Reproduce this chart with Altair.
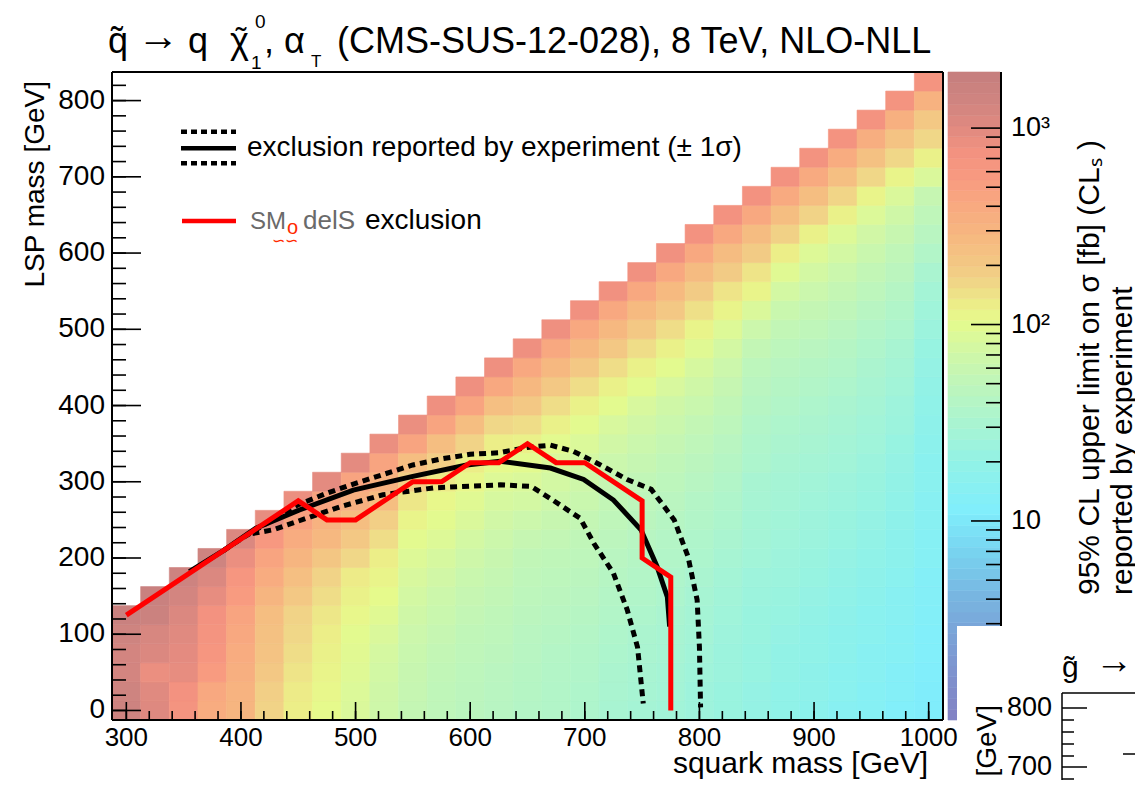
import altair as alt
import numpy as np
import pandas as pd

# ---------------- data ----------------
squark_mass = [300, 325, 350, 375, 400, 425, 450, 475, 500, 525, 550, 575, 600, 625, 650,
               675, 700, 725, 750, 775, 800, 825, 850, 875, 900, 925, 950, 975, 1000]
lsp_step = 25  # every column starts at LSP = 0 and climbs in steps of 25 GeV

# 95% CL upper limit on sigma [fb], per squark-mass column, from LSP = 0 upwards
sig_300 = [1500, 1450, 1300, 1300, 1450, 1700]
sig_325 = [1050, 1000, 850, 1100, 1200, 1600, 1700]
sig_350 = [700, 750, 900, 950, 1000, 1100, 1300, 1500]
sig_375 = [380, 420, 550, 650, 700, 750, 900, 1100, 1450]
sig_400 = [300, 320, 350, 380, 420, 450, 550, 650, 850, 1100]
sig_425 = [170, 180, 200, 220, 230, 250, 300, 380, 450, 600, 900]
sig_450 = [125, 130, 140, 150, 160, 170, 200, 240, 300, 380, 480, 850]
sig_475 = [105, 110, 115, 120, 125, 135, 150, 170, 210, 280, 330, 450, 950]
sig_500 = [85, 88, 92, 96, 100, 110, 120, 130, 160, 200, 250, 350, 450, 950]
sig_525 = [68, 70, 74, 78, 85, 95, 105, 115, 125, 150, 180, 250, 330, 450, 850]
sig_550 = [56, 58, 60, 62, 65, 70, 75, 82, 90, 100, 115, 135, 180, 250, 450, 850]
sig_575 = [50, 51, 53, 55, 58, 62, 66, 72, 80, 90, 100, 110, 130, 180, 250, 450, 800]
sig_600 = [46, 47, 48, 50, 52, 55, 58, 62, 68, 75, 85, 95, 110, 125, 170, 250, 450, 800]
sig_625 = [43, 44, 45, 47, 49, 51, 54, 57, 61, 66, 72, 80, 90, 105, 125, 160, 240, 420, 800]
sig_650 = [40, 41, 42, 43, 44, 46, 48, 50, 53, 58, 65, 75, 85, 100, 120, 150, 200, 280, 420, 800]
sig_675 = [38, 38, 39, 40, 42, 44, 46, 48, 51, 55, 60, 67, 75, 85, 100, 120, 150, 200, 280, 420, 800]
sig_700 = [35, 36, 37, 38, 40, 42, 44, 46, 49, 52, 56, 62, 68, 76, 86, 100, 120, 150, 200, 280, 420, 780]
sig_725 = [31, 32, 33, 34, 36, 38, 40, 42, 44, 47, 50, 54, 58, 64, 72, 82, 100, 120, 150, 200, 280, 420, 780]
sig_750 = [29, 30, 31, 32, 33, 35, 37, 39, 41, 43, 46, 49, 53, 58, 64, 72, 82, 100, 120, 150, 200, 270, 420, 780]
sig_775 = [27, 28, 29, 30, 31, 32, 34, 36, 38, 40, 42, 45, 48, 52, 57, 63, 70, 82, 100, 120, 150, 200, 270, 420, 780]
sig_800 = [25, 25, 26, 27, 28, 29, 30, 32, 34, 36, 38, 40, 43, 46, 50, 55, 62, 70, 80, 95, 115, 145, 190, 265, 420, 760]
sig_825 = [23, 23, 24, 24, 25, 26, 27, 28, 30, 32, 34, 36, 38, 41, 44, 48, 53, 58, 65, 75, 90, 115, 140, 190, 260, 420, 760]
sig_850 = [21, 21, 22, 22, 23, 23, 24, 25, 27, 28, 29, 30, 31, 34, 36, 38, 42, 45, 48, 55, 65, 85, 115, 140, 190, 260, 420, 750]
sig_875 = [19, 19, 20, 20, 21, 22, 23, 24, 25, 26, 27, 28, 29, 31, 33, 35, 38, 41, 44, 48, 54, 62, 75, 95, 125, 175, 250, 400, 750]
sig_900 = [17, 18, 18, 19, 19, 20, 21, 22, 23, 24, 25, 26, 27, 29, 31, 33, 35, 38, 41, 45, 50, 56, 64, 75, 90, 120, 170, 250, 400, 740]
sig_925 = [15, 16, 16, 17, 17, 18, 19, 20, 21, 22, 23, 24, 25, 27, 28, 30, 32, 35, 38, 41, 45, 50, 56, 64, 75, 90, 120, 165, 240, 380, 730]
sig_950 = [14, 14, 15, 15, 16, 16, 17, 18, 19, 20, 21, 22, 23, 24, 26, 27, 29, 31, 33, 36, 39, 43, 48, 54, 62, 72, 88, 115, 160, 230, 360, 720]
sig_975 = [12, 13, 13, 14, 14, 15, 15, 16, 17, 17, 18, 19, 20, 21, 22, 24, 25, 27, 29, 31, 34, 37, 41, 46, 52, 60, 70, 85, 115, 160, 220, 340, 710]
sig_1000 = [11, 11, 11.5, 12, 12, 12.5, 13, 13, 14, 14, 15, 15, 16, 16, 17, 18, 19, 20, 21, 22, 24, 26, 28, 32, 38, 44, 50, 58, 85, 120, 160, 200, 330, 700]

sig_columns = [sig_300, sig_325, sig_350, sig_375, sig_400, sig_425, sig_450, sig_475, sig_500,
               sig_525, sig_550, sig_575, sig_600, sig_625, sig_650, sig_675, sig_700, sig_725,
               sig_750, sig_775, sig_800, sig_825, sig_850, sig_875, sig_900, sig_925, sig_950,
               sig_975, sig_1000]

# exclusion contours (squark mass, LSP mass)
obs_x = [355, 385, 413, 451, 498, 550, 597, 626, 670, 699, 725, 749, 763, 772, 774]
obs_y = [182, 210, 239, 263, 289, 307, 322, 327, 318, 303, 276, 237, 189, 149, 110]
up_x = [385, 400, 425, 450, 475, 500, 525, 550, 575, 600, 625, 650, 670, 690, 710, 737, 758, 778, 790, 798, 800, 801]
up_y = [210, 225, 248, 270, 285, 298, 310, 322, 330, 336, 338, 345, 348, 340, 325, 303, 290, 250, 202, 145, 83, 4]
dn_x = [410, 428, 457, 486, 524, 568, 626, 653, 670, 696, 708, 725, 737, 746, 751]
dn_y = [232, 237, 252, 267, 283, 292, 296, 294, 278, 252, 219, 180, 132, 83, 9]
smodels_x = [300, 450, 475, 500, 550, 575, 600, 625, 650, 675, 700, 750, 750, 775, 775]
smodels_y = [125, 275, 250, 250, 300, 300, 325, 325, 350, 325, 325, 275, 200, 175, 0]

# axis tick values and labels
x_labels = [300, 400, 500, 600, 700, 800, 900, 1000]
x_minor = list(range(300, 1001, 20))
y_labels = [0, 100, 200, 300, 400, 500, 600, 700, 800]
y_minor = list(range(0, 821, 20))
cb_major = [10, 100, 1000]
cb_major_text = ['10', '10²', '10³']
cb_minor = [m * d for d in (1, 10, 100) for m in range(2, 10)]
cb_lo, cb_hi = 0.97, 1930

# colour palette (log10 sigma -> colour)
lv_stops = [0.0, 0.35, 0.6, 0.85, 1.05, 1.15, 1.3, 1.45, 1.6, 1.75, 1.9, 2.02, 2.1, 2.2,
            2.3, 2.45, 2.6, 2.75, 2.88, 3.0, 3.15, 3.29]
col_stops = ['#8282c4', '#7c9cd4', '#78b4e0', '#78d4f0', '#80eefc', '#86f0f4', '#92f2e6',
             '#a4f4d6', '#b4f5c6', '#c4f6b4', '#d6f8a0', '#e6fa8c', '#ecee88', '#f0d888',
             '#f3c884', '#f6b880', '#f8aa80', '#f89a80', '#f39280', '#e08a80', '#cf8480', '#c47e7e']

# ---------------- tables ----------------
rows = []
for mx, col in zip(squark_mass, sig_columns):
    for j, s in enumerate(col):
        my = lsp_step * j
        rows.append(dict(x0=mx - 12.5, x1=mx + 12.5, y0=my - 12.5, y1=my + 12.5, lv=float(np.log10(s))))
heat_df = pd.DataFrame(rows)

edges = np.linspace(np.log10(cb_lo), np.log10(cb_hi), 61)
cb_df = pd.DataFrame({'s0': 10 ** edges[:-1], 's1': 10 ** edges[1:], 'lv': (edges[:-1] + edges[1:]) / 2})

W, H = 831, 648
FONT = "Liberation Sans"
xs = alt.Scale(domain=[287.5, 1012.5], nice=False, zero=False)
ys = alt.Scale(domain=[-12.5, 837.5], nice=False, zero=False)
cs = alt.Scale(type='linear', domain=lv_stops, range=col_stops, interpolate='rgb', clamp=True)
cbs = alt.Scale(type='log', domain=[cb_lo, cb_hi], nice=False)

one = pd.DataFrame({'k': [0]})


def txt(s, x, y, size, align='left', baseline='alphabetic', color='black', **kw):
    return alt.Chart(one).mark_text(text=s, font=FONT, fontSize=size, align=align,
                                    baseline=baseline, color=color, **kw).encode(
        x=alt.value(x), y=alt.value(y))


def rule(x1, y1, x2, y2, color='black', width=2.0, dash=None):
    kw = dict(color=color, strokeWidth=width)
    if dash:
        kw['strokeDash'] = dash
    return alt.Chart(one).mark_rule(**kw).encode(
        x=alt.value(x1), y=alt.value(y1), x2=alt.value(x2), y2=alt.value(y2))


heat = alt.Chart(heat_df).mark_rect(strokeWidth=0.6).encode(
    x=alt.X('x0:Q', scale=xs, axis=None), x2='x1:Q',
    y=alt.Y('y0:Q', scale=ys, axis=None), y2='y1:Q',
    color=alt.Color('lv:Q', scale=cs, legend=None),
    stroke=alt.Color('lv:Q', scale=cs, legend=None),
)


def xticks(vals, length):
    return alt.Chart(pd.DataFrame({'v': vals})).mark_rule(color='black', strokeWidth=1.6).encode(
        x=alt.X('v:Q', scale=xs, axis=None), y=alt.value(H), y2=alt.value(H - length))


def yticks(vals, length):
    return alt.Chart(pd.DataFrame({'v': vals})).mark_rule(color='black', strokeWidth=1.6).encode(
        y=alt.Y('v:Q', scale=ys, axis=None), x=alt.value(0), x2=alt.value(length))


def contour(cx, cy, **kw):
    df = pd.DataFrame({'mx': cx, 'my': cy, 'i': list(range(len(cx)))})
    return alt.Chart(df).mark_line(**kw).encode(
        x=alt.X('mx:Q', scale=xs, axis=None), y=alt.Y('my:Q', scale=ys, axis=None), order='i:Q')


x_lab = alt.Chart(pd.DataFrame({'v': x_labels})).mark_text(
    font=FONT, fontSize=26, baseline='top', align='center', color='black').encode(
    x=alt.X('v:Q', scale=xs, axis=None), y=alt.value(H + 5), text='v:Q')
y_lab = alt.Chart(pd.DataFrame({'v': y_labels})).mark_text(
    font=FONT, fontSize=28, baseline='middle', align='right', color='black').encode(
    y=alt.Y('v:Q', scale=ys, axis=None), x=alt.value(-7), text='v:Q')

main_layers = [
    heat,
    xticks(x_minor, 9), xticks(x_labels, 18),
    yticks(y_minor, 14), yticks(y_labels, 29),
    contour(dn_x, dn_y, color='black', strokeWidth=5, strokeDash=[7, 5], strokeCap='butt'),
    contour(up_x, up_y, color='black', strokeWidth=5, strokeDash=[7, 5], strokeCap='butt'),
    contour(obs_x, obs_y, color='black', strokeWidth=5),
    contour(smodels_x, smodels_y, color='#ff0000', strokeWidth=5),
    rule(0, 0, W, 0), rule(W, 0, W, H), rule(0, 0, 0, H), rule(0, H, W, H),
    y_lab,
    txt('LSP mass [GeV]', -68, 9, 28, align='right', angle=270),
    # legend
    rule(69, 59.7, 124, 59.7, width=4.5, dash=[6, 4]),
    rule(69, 76.3, 124, 76.3, width=4.5),
    rule(69, 91.3, 124, 91.3, width=4.5, dash=[6, 4]),
    rule(70, 149, 124, 149, color='#ff0000', width=4.5),
    txt('exclusion reported by experiment (± 1σ)', 135, 84, 28),
    txt('SM', 138, 157, 24, color='#6a6a6a'),
    txt('o', 175, 162, 20, color='#ff2a00'),
    txt('delS', 191, 157, 26, color='#6a6a6a'),
    txt('∽∽', 160, 174, 16, color='#ff2a00'),
    txt('exclusion', 253, 157, 28),
    # title
    txt('q̃', -4, -19.5, 36),
    txt('→', 25, -22, 42),
    txt('q', 76, -19.5, 36),
    txt('χ', 118, -19.5, 36),
    txt('˜', 129, -22, 32, align='center'),
    txt('0', 143, -44, 19),
    txt('1', 139, -3, 19),
    txt(',', 152, -19.5, 36),
    txt('α', 172, -19.5, 36),
    txt('T', 199, -5, 17),
    txt('(CMS-SUS-12-028), 8 TeV, NLO-NLL', 225, -19.5, 36),
]
main = alt.layer(*main_layers)

cb_rects = alt.Chart(cb_df).mark_rect(strokeWidth=0.6).encode(
    x=alt.value(836), x2=alt.value(888),
    y=alt.Y('s0:Q', scale=cbs, axis=None), y2='s1:Q',
    color=alt.Color('lv:Q', scale=cs, legend=None),
    stroke=alt.Color('lv:Q', scale=cs, legend=None),
)


def cbticks(vals, length):
    return alt.Chart(pd.DataFrame({'v': vals})).mark_rule(color='black', strokeWidth=1.6).encode(
        y=alt.Y('v:Q', scale=cbs, axis=None), x=alt.value(888 - length), x2=alt.value(888))


cb_lab = alt.Chart(pd.DataFrame({'v': cb_major, 't': cb_major_text})).mark_text(
    font=FONT, fontSize=27, baseline='middle', align='left', color='black').encode(
    y=alt.Y('v:Q', scale=cbs, axis=None), x=alt.value(899), text='t:N')

cbar = alt.layer(cb_rects, cbticks(cb_minor, 14), cbticks(cb_major, 29), cb_lab,
                 rule(889, 0, 889, H))

cb_line1 = '95% CL upper limit on    σ [fb] (CLₛ )'
cb_line2 = 'reported by experiment'
over = alt.layer(
    txt(cb_line1, 978, 523, 30, baseline='middle', angle=270),
    txt(cb_line2, 1011, 523, 30, baseline='middle', angle=270),
    # neighbouring figure peeking in at the bottom right
    alt.Chart(one).mark_rect(color='white').encode(
        x=alt.value(845), x2=alt.value(1040), y=alt.value(554), y2=alt.value(740)),
    rule(950, 621, 950, 740, width=1.5), rule(950, 621, 1040, 621, width=1.5),
    rule(950, 636, 975, 636, width=1.5), rule(950, 695, 975, 695, width=1.5),
    rule(950, 648, 962, 648, width=1.5), rule(950, 660, 962, 660, width=1.5),
    rule(950, 672, 962, 672, width=1.5), rule(950, 684, 962, 684, width=1.5),
    rule(950, 707, 962, 707, width=1.5), rule(1011, 682, 1031, 682, width=1.5),
    txt('800', 940, 636, 27, align='right', baseline='middle'),
    txt('700', 940, 695, 27, align='right', baseline='middle'),
    txt('g̃', 950, 605, 30), txt('→', 983, 601, 38), txt('t', 1026, 605, 30),
    txt('LSP mass [GeV]', 884, 633, 28, align='right', angle=270),
    # main x-axis labels and title drawn last so nothing covers them
    x_lab,
    txt('squark mass [GeV]', 816, 701, 30, align='right'),
)

chart = alt.layer(main, cbar, over).resolve_scale(y='independent').properties(
    width=W, height=H,
    padding={'left': 104, 'top': 64, 'right': 192, 'bottom': 60},
    autosize=alt.AutoSizeParams(type='none'),
    background='white',
).configure_view(stroke=None)

chart.save("out.html", embed_options={"renderer": "svg", "actions": False})
